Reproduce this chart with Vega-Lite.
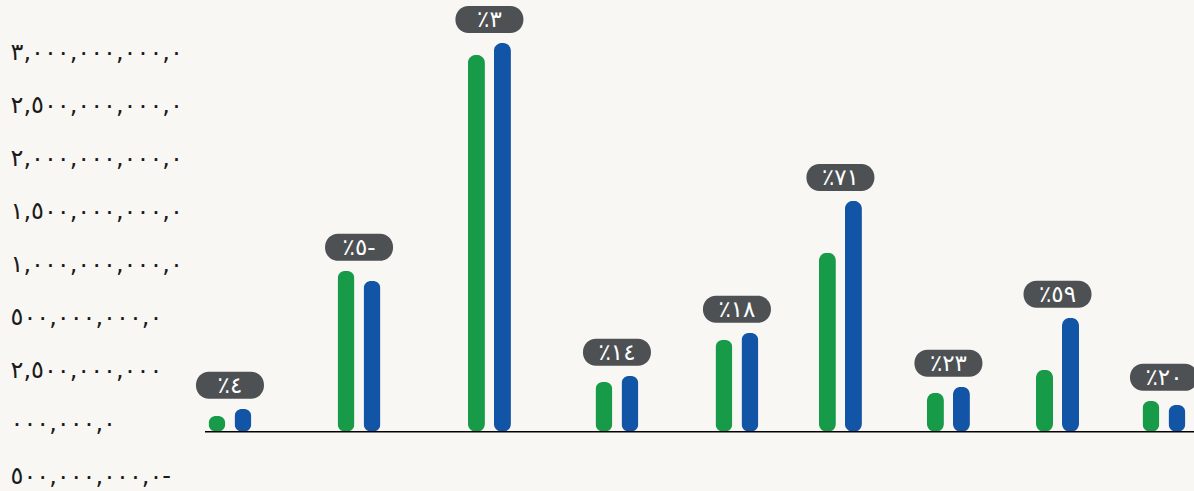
{
  "$schema": "https://vega.github.io/schema/vega-lite/v6.json",
  "width": 989,
  "height": 482,
  "autosize": {"type": "none"},
  "padding": {"left": 205, "top": 8, "right": 0, "bottom": 1},
  "background": "#f9f7f3",
  "config": {"view": {"stroke": null}, "font": "DejaVu Sans"},
  "data": {
    "values": [
      {"t": 0.192, "green": 151000000, "blue": 217000000, "pct": "٪٤"},
      {"t": 1.185, "green": 1519000000, "blue": 1425000000, "pct": "٪٥-"},
      {"t": 2.188, "green": 3557000000, "blue": 3670000000, "pct": "٪٣"},
      {"t": 3.169, "green": 472000000, "blue": 528000000, "pct": "٪١٤"},
      {"t": 4.092, "green": 868000000, "blue": 934000000, "pct": "٪١٨"},
      {"t": 4.888, "green": 1689000000, "blue": 2179000000, "pct": "٪٧١"},
      {"t": 5.719, "green": 368000000, "blue": 425000000, "pct": "٪٢٣"},
      {"t": 6.558, "green": 585000000, "blue": 1075000000, "pct": "٪٥٩"},
      {"t": 7.377, "green": 292000000, "blue": 255000000, "pct": "٪٢٠"}
    ]
  },
  "layer": [
    {
      "mark": {"type": "bar", "orient": "vertical", "width": 17, "cornerRadius": 8, "xOffset": -13, "color": "#179b48"},
      "encoding": {
        "x": {"field": "t", "type": "quantitative", "scale": {"domain": [0, 7.608], "nice": false, "zero": false, "padding": 0}, "axis": null},
        "y": {
          "field": "green", "type": "quantitative",
          "scale": {"domain": [-550000000, 4000000000], "nice": false, "zero": false},
          "axis": {
            "title": null,
            "values": [-500000000, 0, 500000000, 1000000000, 1500000000, 2000000000, 2500000000, 3000000000, 3500000000],
            "labelExpr": "datum.value == 3500000000 ? '٣,٠٠٠,٠٠٠,٠٠٠,٠' : datum.value == 3000000000 ? '٢,٥٠٠,٠٠٠,٠٠٠,٠' : datum.value == 2500000000 ? '٢,٠٠٠,٠٠٠,٠٠٠,٠' : datum.value == 2000000000 ? '١,٥٠٠,٠٠٠,٠٠٠,٠' : datum.value == 1500000000 ? '١,٠٠٠,٠٠٠,٠٠٠,٠' : datum.value == 1000000000 ? '٥٠٠,٠٠٠,٠٠٠,٠' : datum.value == 500000000 ? '٢,٥٠٠,٠٠٠,٠٠٠' : datum.value == 0 ? '٠٠٠,٠٠٠,٠' : '٥٠٠,٠٠٠,٠٠٠,٠-'",
            "domain": false,
            "ticks": false,
            "tickSize": 0,
            "grid": false,
            "labelAlign": "left",
            "labelBaseline": "middle",
            "labelPadding": 195,
            "labelOffset": -8,
            "labelFontSize": 24,
            "labelColor": "#1a1a1a",
            "labelFont": "DejaVu Sans",
            "labelOverlap": false,
            "labelFlush": false,
            "labelBound": false
          }
        }
      }
    },
    {
      "mark": {"type": "bar", "orient": "vertical", "width": 17, "cornerRadius": 8, "xOffset": 13, "color": "#1254a5"},
      "encoding": {
        "x": {"field": "t", "type": "quantitative"},
        "y": {"field": "blue", "type": "quantitative"}
      }
    },
    {
      "data": {"values": [{}]},
      "mark": {"type": "rule", "color": "#000000", "strokeWidth": 1.3},
      "encoding": {"y": {"datum": 0, "type": "quantitative"}}
    },
    {
      "transform": [
        {"fold": ["green", "blue"], "as": ["series", "value"]},
        {"aggregate": [{"op": "max", "field": "value", "as": "top"}], "groupby": ["t", "pct"]}
      ],
      "mark": {"type": "bar", "width": 68, "cornerRadius": 13, "yOffset": -37, "y2Offset": -10, "color": "#4d5153"},
      "encoding": {
        "x": {"field": "t", "type": "quantitative"},
        "y": {"field": "top", "type": "quantitative"},
        "y2": {"field": "top"}
      }
    },
    {
      "transform": [
        {"fold": ["green", "blue"], "as": ["series", "value"]},
        {"aggregate": [{"op": "max", "field": "value", "as": "top"}], "groupby": ["t", "pct"]}
      ],
      "mark": {"type": "text", "color": "#ffffff", "fontSize": 23, "font": "DejaVu Sans", "baseline": "middle", "align": "center", "yOffset": -23},
      "encoding": {
        "x": {"field": "t", "type": "quantitative"},
        "y": {"field": "top", "type": "quantitative"},
        "text": {"field": "pct"}
      }
    }
  ]
}
